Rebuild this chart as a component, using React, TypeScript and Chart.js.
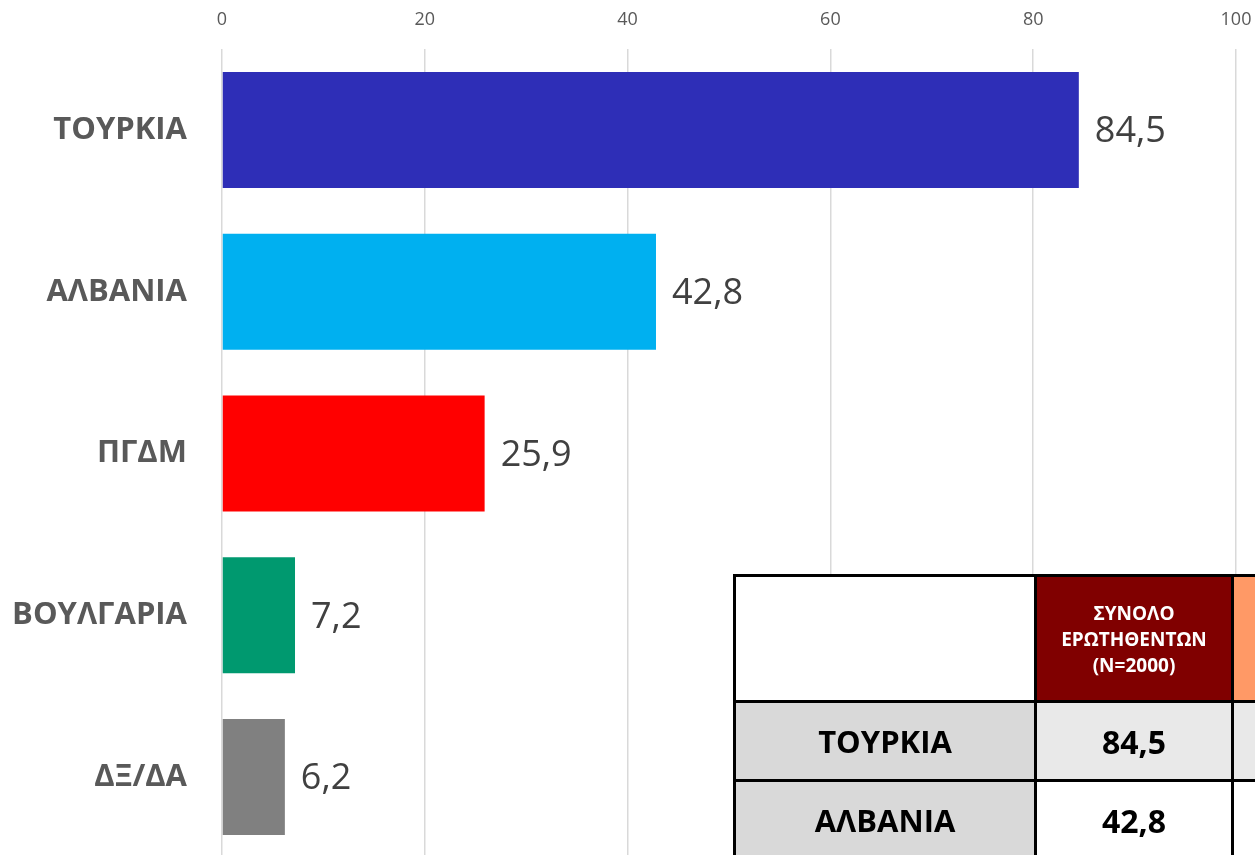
import React, { useEffect, useRef } from "react";
import { Chart, registerables } from "chart.js";

Chart.register(...registerables);

const categories = ["ΤΟΥΡΚΙΑ", "ΑΛΒΑΝΙΑ", "ΠΓΔΜ", "ΒΟΥΛΓΑΡΙΑ", "ΔΞ/ΔΑ"];
const values = [84.5, 42.8, 25.9, 7.2, 6.2];
const barColors = ["#2E2EB7", "#00B0F0", "#FF0000", "#00996F", "#808080"];
const xMin = 0;
const xMax = 100;
const xStep = 20;

const tableHeader = ["", "ΣΥΝΟΛΟ ΕΡΩΤΗΘΕΝΤΩΝ (N=2000)", ""];
const tableRows = [
  ["ΤΟΥΡΚΙΑ", "84,5", ""],
  ["ΑΛΒΑΝΙΑ", "42,8", ""],
];

const fmt = (v: number) => v.toFixed(1).replace(".", ",");

const valueLabels = {
  id: "valueLabels",
  afterDatasetsDraw(chart: any) {
    const ctx = chart.ctx;
    const meta = chart.getDatasetMeta(0);
    ctx.save();
    ctx.font = "36px 'Open Sans'";
    ctx.fillStyle = "#404040";
    ctx.textAlign = "left";
    ctx.textBaseline = "middle";
    meta.data.forEach((el: any, i: number) => {
      ctx.fillText(fmt(values[i]), el.x + 16, el.y + 2);
    });
    ctx.restore();
  },
};

export default function App() {
  const ref = useRef<HTMLCanvasElement>(null);
  useEffect(() => {
    if (!ref.current) return;
    const chart = new Chart(ref.current, {
      type: "bar",
      data: {
        labels: categories,
        datasets: [
          {
            data: values,
            backgroundColor: barColors,
            borderWidth: 0,
            barPercentage: 0.717,
            categoryPercentage: 1,
          },
        ],
      },
      options: {
        indexAxis: "y",
        responsive: false,
        animation: false,
        layout: { padding: { left: 0, right: 19, top: 0, bottom: 0 } },
        plugins: {
          legend: { display: false },
          title: { display: false },
          tooltip: { enabled: false },
        },
        scales: {
          x: {
            type: "linear",
            position: "top",
            min: xMin,
            max: xMax,
            afterFit: (scale: any) => {
              scale.height = 49;
              scale.paddingLeft = 0;
              scale.paddingRight = 0;
              scale.paddingTop = 0;
              scale.paddingBottom = 0;
            },
            grid: { color: "#D9D9D9", lineWidth: 1.5, drawTicks: false },
            border: { display: false },
            ticks: {
              stepSize: xStep,
              font: { family: "'Open Sans'", size: 18 },
              color: "#595959",
              padding: 18,
            },
          },
          y: {
            type: "category",
            afterFit: (scale: any) => {
              scale.width = 222;
              scale.paddingLeft = 0;
              scale.paddingRight = 0;
              scale.paddingTop = 0;
              scale.paddingBottom = 0;
            },
            grid: { display: false, drawTicks: false },
            border: { display: false },
            ticks: {
              font: { family: "'Open Sans'", size: 31, weight: "bold" },
              color: "#595959",
              padding: 35,
            },
          },
        },
      },
      plugins: [valueLabels],
    });
    return () => chart.destroy();
  }, []);

  const cellBase: React.CSSProperties = {
    border: "3px solid #000",
    textAlign: "center",
    verticalAlign: "middle",
    fontFamily: "'Open Sans', sans-serif",
    fontWeight: "bold",
    color: "#000",
    padding: 0,
    overflow: "hidden",
  };

  return (
    <div
      style={{
        position: "fixed",
        left: 0,
        top: 0,
        width: 1255,
        height: 855,
        overflow: "hidden",
        background: "#fff",
      }}
    >
      <canvas ref={ref} width={1255} height={858} style={{ display: "block", width: 1255, height: 858 }} />
      <table
        style={{
          position: "absolute",
          left: 733,
          top: 574,
          borderCollapse: "collapse",
          tableLayout: "fixed",
          width: 696,
        }}
      >
        <colgroup>
          <col style={{ width: 301 }} />
          <col style={{ width: 197 }} />
          <col style={{ width: 198 }} />
        </colgroup>
        <tbody>
          <tr style={{ height: 126 }}>
            <td style={{ ...cellBase, background: "#fff" }}>{tableHeader[0]}</td>
            <td
              style={{
                ...cellBase,
                background: "#800000",
                color: "#fff",
                fontSize: 19,
                lineHeight: "26px",
                padding: "0 4px",
              }}
            >
              {tableHeader[1]}
            </td>
            <td style={{ ...cellBase, background: "#FF9966" }}>{tableHeader[2]}</td>
          </tr>
          {tableRows.map((r, i) => (
            <tr key={i} style={{ height: 79 }}>
              <td style={{ ...cellBase, background: "#D9D9D9", fontSize: 31 }}>{r[0]}</td>
              <td style={{ ...cellBase, background: i === 0 ? "#E9E9E9" : "#fff", fontSize: 32 }}>{r[1]}</td>
              <td style={{ ...cellBase, background: i === 0 ? "#E9E9E9" : "#fff", fontSize: 32 }}>{r[2]}</td>
            </tr>
          ))}
        </tbody>
      </table>
    </div>
  );
}
